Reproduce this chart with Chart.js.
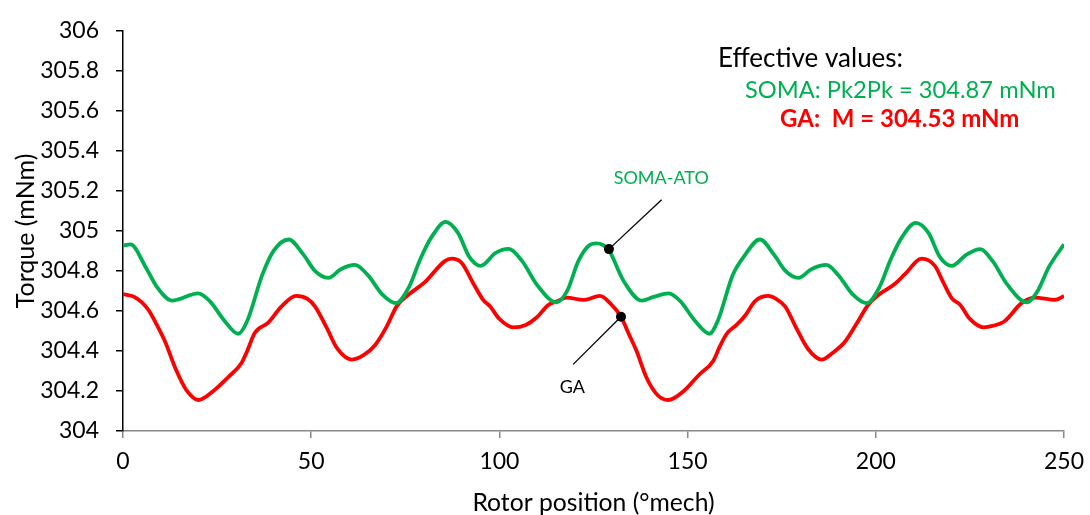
<!DOCTYPE html>
<html>
<head>
<meta charset="utf-8">
<script src="https://cdn.jsdelivr.net/npm/chart.js@4.4.1/dist/chart.umd.min.js"></script>
<style>
  html, body { margin: 0; padding: 0; background: #fff; }
  #wrap { width: 1090px; height: 515px; }
</style>
</head>
<body>
<div id="wrap"><canvas id="torque"></canvas></div>
<script>
// rotor position (deg mech) and torque (mNm)
var somaX = [0, 2, 6, 9, 13, 20, 23, 27, 30.6, 33, 37, 40, 44, 48, 51, 54.5, 58, 61.6, 65, 69, 72.5, 76, 79, 82, 85.7, 89, 92, 95, 99, 102.4, 106, 110, 115.2, 118, 121, 124, 125.8, 129, 133, 137.8, 141, 145, 148, 152, 155.8, 158, 162, 165, 169.2, 173, 176, 179.4, 183, 186.9, 190, 194, 197.6, 201, 204, 207, 210.6, 214, 217, 220.2, 224, 227.7, 231, 235, 240.1, 243, 246, 250];
var somaY = [304.926, 304.933, 304.82, 304.72, 304.652, 304.688, 304.65, 304.55, 304.486, 304.55, 304.78, 304.9, 304.957, 304.88, 304.8, 304.765, 304.81, 304.83, 304.78, 304.68, 304.639, 304.72, 304.86, 304.97, 305.045, 304.99, 304.87, 304.825, 304.89, 304.91, 304.85, 304.73, 304.643, 304.7, 304.85, 304.93, 304.938, 304.905, 304.75, 304.652, 304.67, 304.688, 304.65, 304.55, 304.486, 304.55, 304.78, 304.873, 304.957, 304.88, 304.8, 304.765, 304.81, 304.83, 304.78, 304.68, 304.639, 304.72, 304.86, 304.97, 305.04, 304.99, 304.87, 304.825, 304.88, 304.909, 304.85, 304.73, 304.643, 304.7, 304.82, 304.933];

var gaX = [0, 3, 6.7, 9, 11.2, 14, 17, 20, 24, 28, 31.5, 33, 35, 38.6, 42, 46, 49, 51, 54, 57, 60.8, 64, 67, 70, 72.7, 75.8, 80.2, 85.5, 87.3, 90, 93, 95.7, 97.5, 100, 103.7, 107, 109.9, 113, 115.2, 117.9, 122.3, 126.7, 129.4, 132.3, 134.5, 136.5, 139, 142, 144.9, 149, 153, 156.8, 158.5, 160.4, 163, 165.2, 168, 171.4, 173.5, 175.9, 179, 182, 185.6, 188.5, 191.8, 195, 198, 200.7, 205.1, 207.8, 212.2, 215.7, 218, 220.2, 222.4, 225, 228.6, 231, 234.3, 238.7, 242.3, 247.6, 250];
var gaY = [304.684, 304.67, 304.607, 304.53, 304.446, 304.31, 304.2, 304.155, 304.2, 304.27, 304.34, 304.4, 304.49, 304.542, 304.62, 304.675, 304.66, 304.623, 304.52, 304.41, 304.357, 304.38, 304.43, 304.52, 304.623, 304.68, 304.744, 304.849, 304.861, 304.84, 304.74, 304.655, 304.623, 304.56, 304.518, 304.53, 304.567, 304.63, 304.647, 304.667, 304.655, 304.675, 304.639, 304.571, 304.48, 304.397, 304.27, 304.18, 304.155, 304.2, 304.28, 304.35, 304.42, 304.486, 304.53, 304.575, 304.65, 304.675, 304.66, 304.623, 304.51, 304.41, 304.357, 304.39, 304.446, 304.54, 304.631, 304.68, 304.736, 304.785, 304.861, 304.825, 304.74, 304.663, 304.631, 304.56, 304.518, 304.525, 304.55, 304.639, 304.667, 304.655, 304.675];

// callouts: dot on curve, end of leader line, label position
var calloutNames = ["SOMA-ATO", "GA"];
var calloutColors = ["#00B050", "#000000"];
var dotX = [129.1, 132.3];
var dotY = [304.909, 304.571];
var leadX = [143.1, 119.6];
var leadY = [305.156, 304.333];
var labelX = [143.0, 119.4];
var labelY = [305.264, 304.22];

var noteLines = ["Effective values:", "SOMA: Pk2Pk = 304.87 mNm", "GA:  M = 304.53 mNm"];

var FONT = "Lato, 'Open Sans', sans-serif";

function pts(xs, ys) {
  return xs.map(function (x, i) { return { x: x, y: ys[i] }; });
}

var calloutPlugin = {
  id: "callouts",
  afterDatasetsDraw: function (chart) {
    var ctx = chart.ctx, xs = chart.scales.x, ys = chart.scales.y;
    ctx.save();
    for (var i = 0; i < calloutNames.length; i++) {
      var px = xs.getPixelForValue(dotX[i]), py = ys.getPixelForValue(dotY[i]);
      var lx = xs.getPixelForValue(leadX[i]), ly = ys.getPixelForValue(leadY[i]);
      ctx.strokeStyle = "#000";
      ctx.lineWidth = 1.3;
      ctx.beginPath();
      ctx.moveTo(px, py);
      ctx.lineTo(lx, ly);
      ctx.stroke();
      ctx.fillStyle = "#000";
      ctx.beginPath();
      ctx.arc(px, py, 5, 0, Math.PI * 2);
      ctx.fill();
      ctx.fillStyle = calloutColors[i];
      ctx.font = "18px " + FONT;
      ctx.textAlign = "center";
      ctx.textBaseline = "middle";
      ctx.fillText(calloutNames[i], xs.getPixelForValue(labelX[i]), ys.getPixelForValue(labelY[i]));
    }
    // effective values box
    ctx.textAlign = "left";
    ctx.textBaseline = "alphabetic";
    ctx.fillStyle = "#000";
    ctx.font = "26px " + FONT;
    ctx.fillText(noteLines[0], 718, 67);
    ctx.fillStyle = "#00B050";
    ctx.font = "23.7px " + FONT;
    ctx.fillText(noteLines[1], 745, 98);
    ctx.fillStyle = "#FF0000";
    ctx.font = "bold 24px " + FONT;
    ctx.fillText(noteLines[2], 780, 127);
    ctx.restore();
  }
};

new Chart(document.getElementById("torque"), {
  type: "line",
  data: {
    datasets: [
      {
        label: "SOMA-ATO",
        data: pts(somaX, somaY),
        borderColor: "#00B050",
        borderWidth: 3.8,
        pointRadius: 0,
        cubicInterpolationMode: "monotone"
      },
      {
        label: "GA",
        data: pts(gaX, gaY),
        borderColor: "#FF0000",
        borderWidth: 3.8,
        pointRadius: 0,
        cubicInterpolationMode: "monotone"
      }
    ]
  },
  options: {
    responsive: true,
    maintainAspectRatio: false,
    animation: false,
    layout: { padding: { left: 0, right: 26, top: 19, bottom: 0 } },
    plugins: { legend: { display: false }, tooltip: { enabled: false } },
    scales: {
      x: {
        type: "linear",
        min: 0,
        max: 250,
        afterFit: function (s) { s.height = 84; s.paddingRight = 0; s.paddingLeft = 0; },
        ticks: { stepSize: 50, color: "#000", padding: 10, font: { family: FONT, size: 23 } },
        grid: { drawOnChartArea: false, color: "#888888", tickLength: 7, lineWidth: 1.5 },
        border: { color: "#888888", width: 1.5 },
        title: { display: true, text: "Rotor position (°mech)", color: "#000", font: { family: FONT, size: 24.7, lineHeight: 1 }, padding: { top: 0, bottom: 0 } }
      },
      y: {
        min: 304,
        max: 306,
        afterFit: function (s) { s.width = 123; },
        ticks: {
          stepSize: 0.2, color: "#000", padding: 17, font: { family: FONT, size: 23 },
          callback: function (v) { return String(Number(v.toFixed(1))); }
        },
        grid: { drawOnChartArea: false, color: "#000", tickLength: 7, lineWidth: 1.5 },
        border: { color: "#000", width: 1.5 },
        title: { display: true, text: "Torque (mNm)", color: "#000", font: { family: FONT, size: 25, lineHeight: 1 }, padding: { top: 13, bottom: 0 } }
      }
    }
  },
  plugins: [calloutPlugin]
});
</script>
</body>
</html>
